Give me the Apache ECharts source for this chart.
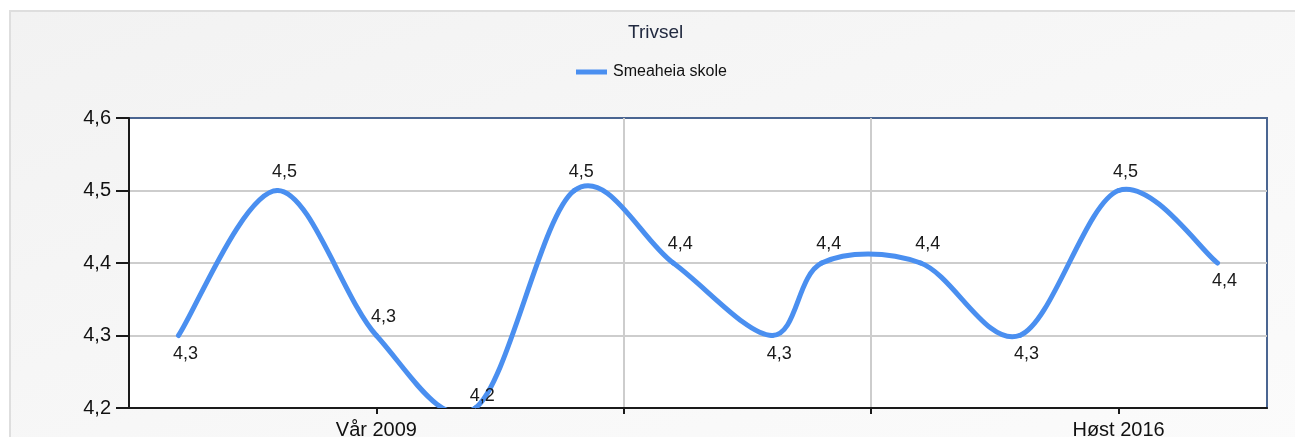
<!DOCTYPE html>
<html>
<head>
<meta charset="utf-8">
<script src="https://cdn.jsdelivr.net/npm/echarts@6/dist/echarts.min.js"></script>
<style>
  html, body { margin: 0; padding: 0; background: #ffffff; overflow: hidden; }
  #panel { position: absolute; left: 9px; top: 10px; width: 1300px; height: 440px;
           border: 2px solid #dedede; background: linear-gradient(160deg, #f2f2f2 0%, #f8f8f8 60%, #fbfbfb 100%); }
  #chart { position: absolute; left: 0; top: 0; width: 1295px; height: 437px; }
</style>
</head>
<body>
<div id="panel"></div>
<div id="chart"></div>
<script>
// ---- data ----
const chartTitle = 'Trivsel';
const seriesName = 'Smeaheia skole';
const semesters = ['Vår 2007','Vår 2008','Vår 2009','Vår 2010','Vår 2011','Vår 2012','Vår 2013','Høst 2013','Høst 2014','Høst 2015','Høst 2016','Høst 2017'];
const values    = [4.3, 4.5, 4.3, 4.2, 4.5, 4.4, 4.3, 4.4, 4.4, 4.3, 4.5, 4.4];
const labelSide = ['bottom','top','top','top','top','top','bottom','top','top','bottom','top','bottom'];
const labelGap  = [9, 9, 9, 2, 9, 9, 9, 9, 9, 9, 9, 9];
const shownXLabels = ['Vår 2009', 'Høst 2016'];
const axisStart = 'Høst 2006';
const axisEnd = 'Vår 2018';
const yTicks = [4.2, 4.3, 4.4, 4.5, 4.6];

// semester name <-> index on a half-year time line (Høst 2006 = 0)
function semIndex(name) {
  const parts = name.split(' ');
  const y = parseInt(parts[1], 10);
  return parts[0] === 'Høst' ? (y - 2006) * 2 : (y - 2007) * 2 + 1;
}
function semName(i) {
  return i % 2 === 0 ? 'Høst ' + (2006 + i / 2) : 'Vår ' + (2007 + (i - 1) / 2);
}
const fmt = v => Number(v).toFixed(1).replace('.', ',');
const blue = '#4a8ff0';
const lineWidth = 5;
const tension = 0.5; // cardinal spline (Catmull-Rom)

const seriesData = semesters.map((s, i) => ({
  value: [semIndex(s), values[i]],
  label: { position: labelSide[i], distance: labelGap[i] }
}));

// Cardinal spline through the points, using the axis scales (api.coord)
function renderSpline(params, api) {
  if (params.dataIndex !== 0) return null;
  const pts = semesters.map((s, i) => api.coord([semIndex(s), values[i]]));
  const n = pts.length;
  const k = tension / 3;
  const children = [];
  for (let i = 0; i < n - 1; i++) {
    const p0 = pts[Math.max(i - 1, 0)], p1 = pts[i], p2 = pts[i + 1], p3 = pts[Math.min(i + 2, n - 1)];
    const a = i === 0 ? [p1, p2] : [p0, p2];
    const b = i + 1 === n - 1 ? [p1, p2] : [p1, p3];
    const c1 = [p1[0] + k * (a[1][0] - a[0][0]), p1[1] + k * (a[1][1] - a[0][1])];
    const c2 = [p2[0] - k * (b[1][0] - b[0][0]), p2[1] - k * (b[1][1] - b[0][1])];
    children.push({
      type: 'bezierCurve',
      shape: { x1: p1[0], y1: p1[1], cpx1: c1[0], cpy1: c1[1], cpx2: c2[0], cpy2: c2[1], x2: p2[0], y2: p2[1] },
      style: { stroke: blue, fill: null, lineWidth: lineWidth, lineCap: 'round' }
    });
  }
  const cs = params.coordSys;
  return {
    type: 'group',
    children: children,
    clipPath: { type: 'rect', shape: { x: cs.x, y: cs.y, width: cs.width, height: cs.height } }
  };
}

const chart = echarts.init(document.getElementById('chart'), null, { renderer: 'canvas' });
chart.setOption({
  backgroundColor: 'transparent',
  animation: false,
  title: {
    text: chartTitle, left: 628, top: 23, padding: 0,
    textStyle: { fontFamily: 'Liberation Sans', fontSize: 19, fontWeight: 'normal', color: '#222a40' }
  },
  legend: {
    left: 576, top: 64, padding: 0, icon: 'rect', itemWidth: 31, itemHeight: 5, itemGap: 10,
    textStyle: { fontFamily: 'Liberation Sans', fontSize: 16, color: '#111', padding: [0, 0, 0, 1] },
    itemStyle: { color: blue, opacity: 1, borderWidth: 0 },
    data: [seriesName]
  },
  grid: {
    left: 129, right: 28, top: 118, bottom: 29,
    containLabel: false, outerBoundsMode: 'none',
    show: true, backgroundColor: '#ffffff', borderColor: '#4a6591', borderWidth: 2
  },
  xAxis: {
    type: 'value',
    min: semIndex(axisStart), max: semIndex(axisEnd), interval: 5,
    axisLine: { show: true, lineStyle: { color: '#1a1a1a', width: 2 } },
    axisTick: { show: true, length: 6, lineStyle: { color: '#1a1a1a', width: 2 }, customValues: [5, 10, 15, 20] },
    axisLabel: {
      margin: 12, fontFamily: 'Liberation Sans', fontSize: 20, color: '#111',
      formatter: v => { const n = semName(Math.round(v)); return shownXLabels.includes(n) ? n : ''; }
    },
    splitLine: { show: true, showMinLine: false, showMaxLine: false, lineStyle: { color: '#cdcdcd', width: 2 } }
  },
  yAxis: {
    type: 'value',
    min: yTicks[0], max: yTicks[yTicks.length - 1], interval: 0.1,
    axisLine: { show: true, lineStyle: { color: '#1a1a1a', width: 2 } },
    axisTick: { show: true, length: 13, lineStyle: { color: '#1a1a1a', width: 2 } },
    axisLabel: { margin: 18, fontFamily: 'Liberation Sans', fontSize: 20, color: '#111', formatter: v => fmt(v) },
    splitLine: { show: true, showMinLine: false, showMaxLine: false, lineStyle: { color: '#cdcdcd', width: 2 } }
  },
  series: [{
    name: seriesName + ' (kurve)',
    type: 'custom',
    renderItem: renderSpline,
    data: seriesData.map(d => d.value),
    encode: { x: 0, y: 1 },
    silent: true,
    z: 2
  }, {
    name: seriesName,
    type: 'line',
    smooth: false,
    data: seriesData,
    symbol: 'circle', symbolSize: 1, showSymbol: true,
    itemStyle: { color: blue },
    lineStyle: { color: blue, width: 0, opacity: 0 },
    clip: true,
    z: 3,
    label: {
      show: true, distance: 9, offset: [7, 0],
      fontFamily: 'Liberation Sans', fontSize: 18, color: '#1a1a1a',
      formatter: p => fmt(p.value[1])
    }
  }]
});
</script>
</body>
</html>
